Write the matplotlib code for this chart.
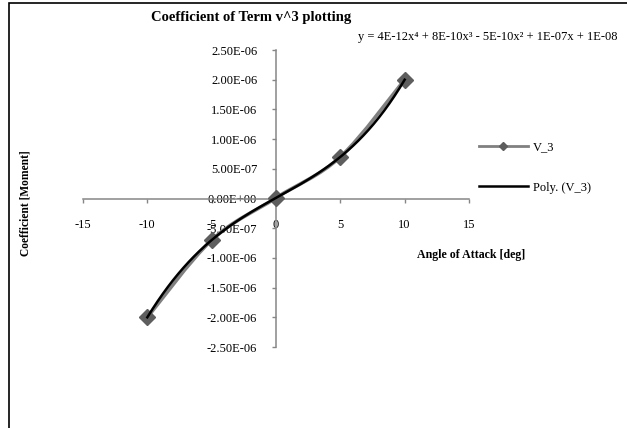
import numpy as np
import matplotlib
matplotlib.use("Agg")
import matplotlib.pyplot as plt
from matplotlib.lines import Line2D
from matplotlib.patches import PathPatch, Rectangle
from matplotlib.path import Path
from matplotlib.ticker import FuncFormatter

plt.rcParams["font.family"] = ["Liberation Serif", "DejaVu Serif"]
plt.rcParams["axes.unicode_minus"] = False

# data
angle = [-10, -5, 0, 5, 10]
coef_v3 = [-2.0e-6, -7.0e-7, 1.0e-8, 7.0e-7, 2.0e-6]
x_ticks = [-15, -10, -5, 0, 5, 10, 15]
y_ticks = [-2.5e-6, -2.0e-6, -1.5e-6, -1.0e-6, -5.0e-7, 0.0,
           5.0e-7, 1.0e-6, 1.5e-6, 2.0e-6, 2.5e-6]
series_name = "V_3"
trend_name = "Poly. (V_3)"
equation = "y = 4E-12x\u2074 + 8E-10x\u00b3 - 5E-10x\u00b2 + 1E-07x + 1E-08"

AXIS_GREY = "#868686"
LINE_GREY = "#808080"
MARKER_GREY = "#5e5e5e"


def smooth_path(xs, ys):
    """Excel-style smoothed line: cubic Bezier segments through the points."""
    pts = np.column_stack([xs, ys]).astype(float)
    n = len(pts)
    verts = [pts[0]]
    codes = [Path.MOVETO]
    for i in range(n - 1):
        p0 = pts[max(i - 1, 0)]
        p1 = pts[i]
        p2 = pts[i + 1]
        p3 = pts[min(i + 2, n - 1)]
        verts += [p1 + (p2 - p0) / 6, p2 - (p3 - p1) / 6, p2]
        codes += [Path.CURVE4] * 3
    return Path(verts, codes)


def sci_label(v, _pos):
    if abs(v) < 1e-15:
        v = 0.0
    return f"{v:.2E}"


fig = plt.figure(figsize=(6.27, 4.28), dpi=100)
ax = fig.add_axes([83 / 627, 81 / 428, 386 / 627, 297 / 428])
ax.set_xlim(x_ticks[0], x_ticks[-1])
ax.set_ylim(y_ticks[0], y_ticks[-1])

# axes cross at the origin, Excel style
ax.spines["left"].set_position(("data", 0))
ax.spines["bottom"].set_position(("data", 0))
ax.spines["top"].set_visible(False)
ax.spines["right"].set_visible(False)
for side in ("left", "bottom"):
    ax.spines[side].set_color(AXIS_GREY)
    ax.spines[side].set_linewidth(1.1)

ax.set_xticks(x_ticks)
ax.set_yticks(y_ticks)
ax.yaxis.set_major_formatter(FuncFormatter(sci_label))
ax.tick_params(axis="y", direction="out", length=3, width=1, color=AXIS_GREY,
               labelsize=9, pad=10.5)
ax.tick_params(axis="x", direction="out", length=3, width=1, color=AXIS_GREY,
               labelsize=9, pad=12)

# series: smoothed grey line with diamond markers
ax.add_patch(PathPatch(smooth_path(angle, coef_v3), facecolor="none",
                       edgecolor=LINE_GREY, linewidth=2.6, zorder=2))
ax.plot(angle, coef_v3, linestyle="none", marker="D", markersize=8,
        color=MARKER_GREY, zorder=3, clip_on=False)

# polynomial trendline (order 4)
fit = np.polyfit(angle, coef_v3, 4)
xs = np.linspace(min(angle), max(angle), 300)
ax.plot(xs, np.polyval(fit, xs), color="black", linewidth=1.8, zorder=4)

handles = [
    Line2D([], [], color=LINE_GREY, linewidth=2, marker="D", markersize=4.5,
           markerfacecolor=MARKER_GREY, markeredgecolor=MARKER_GREY),
    Line2D([], [], color="black", linewidth=1.8),
]
fig.legend(handles, [series_name, trend_name], loc="upper left",
           bbox_to_anchor=(479 / 627, 1 - 141 / 428), bbox_transform=fig.transFigure,
           frameon=False, fontsize=9, handlelength=3.9, handletextpad=0.4,
           labelspacing=2.3, borderpad=0, borderaxespad=0)

fig.text(251 / 627, 1 - 18 / 428, "Coefficient of Term v^3 plotting",
         ha="center", va="center", fontsize=10.5, fontweight="bold")
fig.text(358 / 627, 1 - 37 / 428, equation, ha="left", va="center", fontsize=9)
fig.text(26 / 627, 1 - 203 / 428, "Coefficient [Moment]", rotation=90,
         ha="center", va="center", fontsize=8.3, fontweight="bold")
fig.text(471 / 627, 1 - 255 / 428, "Angle of Attack [deg]",
         ha="center", va="center", fontsize=8.6, fontweight="bold")

# chart area frame (only the left and top edges fall inside the picture)
fig.add_artist(Rectangle((8.5 / 627, -0.1), 1.0, 1.1 - 3 / 428,
                         transform=fig.transFigure, facecolor="none",
                         edgecolor="black", linewidth=1.2))

fig.savefig("out.png", dpi=100, facecolor="white")
